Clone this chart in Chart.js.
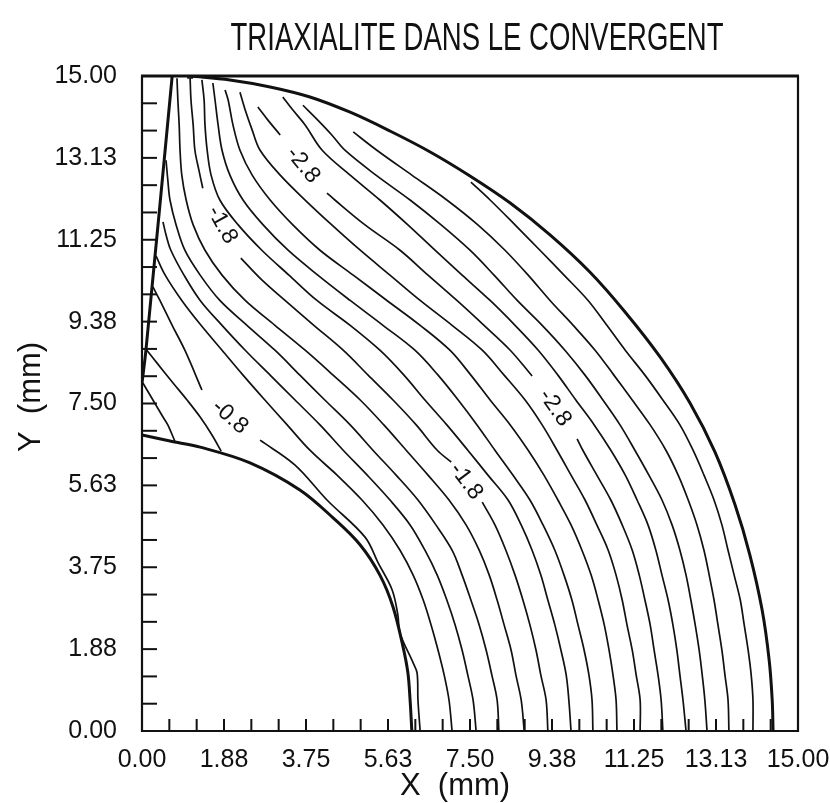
<!DOCTYPE html>
<html><head><meta charset="utf-8">
<script src="https://cdn.jsdelivr.net/npm/chart.js@4.4.1/dist/chart.umd.min.js"></script>
<style>html,body{margin:0;padding:0;background:#fff}</style>
</head><body><canvas id="c" width="830" height="803"></canvas>
<script>
const titleText = 'TRIAXIALITE DANS LE CONVERGENT';
const xTitle = 'X  (mm)';
const yTitle = 'Y  (mm)';
const tickLabels = ['0.00','1.88','3.75','5.63','7.50','9.38','11.25','13.13','15.00'];
const axisMin = 0, axisMax = 15, minorCount = 24;

// domain boundaries (mm)
const outerBoundary = [[1.10,15.0],[2.01,14.91],[2.93,14.75],[3.84,14.52],[4.76,14.17],[5.67,13.74],[6.59,13.26],[7.50,12.71],[8.42,12.09],[9.33,11.36],[10.24,10.51],[11.05,9.59],[11.85,8.56],[12.53,7.51],[13.10,6.39],[13.56,5.18],[13.90,4.03],[14.18,2.77],[14.34,1.63],[14.41,0.71],[14.43,0]];
const innerBoundary = [[0,6.78],[0.64,6.64],[1.33,6.50],[2.47,6.14],[3.61,5.52],[4.37,4.88],[4.99,4.26],[5.44,3.57],[5.74,2.84],[5.97,1.92],[6.08,1.33],[6.13,0.71],[6.17,0]];
const leftBoundary = [[0,7.97],[0.09,8.72],[0.69,15.0]];
const cornerMark = [[1.10,15.0]];

// iso-lines of triaxiality (null = break for a level label)
const c1 = [[0.25,10.17],[0.41,9.86],[0.69,9.29],[0.98,8.72],[1.37,7.81],null,[2.70,6.66],[3.50,6.09],[4.23,5.29],[5.10,4.44],[5.40,3.85],[5.72,3.23],[5.85,2.66],[5.90,2.24],[6.20,1.56],[6.29,1.33],[6.31,0.71],[6.36,0]];
const c2 = [[0.32,10.88],[0.53,10.44],[0.91,9.86],[1.35,9.29],[1.83,8.72],[2.31,8.15],[2.81,7.58],[3.32,7.01],[3.84,6.43],[4.46,5.86],[5.03,5.29],[5.51,4.72],[5.90,4.14],[6.20,3.57],[6.43,3.00],[6.61,2.43],[6.77,1.85],[6.91,1.28],[7.02,0.71],[7.09,0]];
const c3 = [[0.48,11.66],[0.55,11.36],[0.66,11.01],[0.96,10.44],[1.33,9.86],[1.83,9.29],[2.36,8.72],[2.93,8.15],[3.50,7.58],[4.07,7.01],[4.60,6.43],[5.15,5.86],[5.67,5.29],[6.13,4.72],[6.47,4.14],[6.75,3.57],[6.97,3.00],[7.16,2.43],[7.32,1.85],[7.45,1.28],[7.57,0.71],[7.64,0]];
const c4 = [[0.55,13.07],[0.59,12.62],[0.64,12.16],[0.78,11.59],[0.98,11.01],[1.33,10.44],[1.78,9.86],[2.40,9.29],[3.04,8.72],[3.61,8.15],[4.18,7.58],[4.76,7.01],[5.28,6.43],[5.81,5.86],[6.31,5.29],[6.72,4.72],[7.09,4.14],[7.32,3.57],[7.52,3.00],[7.71,2.43],[7.87,1.85],[8.00,1.28],[8.12,0.71],[8.16,0]];
const c5 = [[0.80,14.95],[0.82,14.45],[0.85,13.88],[0.87,13.30],[0.91,12.73],[1.01,12.16],[1.17,11.59],[1.44,11.01],[1.83,10.44],[2.36,9.86],[3.04,9.29],[3.73,8.72],[4.37,8.15],[4.99,7.58],[5.53,7.01],[6.04,6.43],[6.54,5.86],[7.02,5.29],[7.41,4.72],[7.71,4.14],[7.94,3.57],[8.12,3.00],[8.28,2.43],[8.44,1.85],[8.55,1.28],[8.67,0.71],[8.74,0]];
const c6 = [[1.10,14.95],[1.12,14.45],[1.17,13.88],[1.21,13.30],[1.30,12.85],[1.39,12.43],null,[2.26,10.83],[2.74,10.33],[3.27,9.86],[3.93,9.29],[4.60,8.72],[5.17,8.15],[5.74,7.58],[6.27,7.01],[6.75,6.43],[7.07,6.16],null,[7.78,5.24],[8.07,4.72],[8.32,4.14],[8.53,3.57],[8.71,3.00],[8.87,2.43],[9.01,1.85],[9.12,1.28],[9.24,0.71],[9.28,0]];
const c7 = [[1.37,14.91],[1.42,14.45],[1.44,13.88],[1.49,13.30],[1.58,12.73],[1.78,12.16],[2.20,11.59],[2.74,11.01],[3.36,10.44],[4.00,9.86],[4.76,9.29],[5.44,8.72],[5.99,8.15],[6.47,7.58],[6.97,7.01],[7.45,6.43],[7.91,5.86],[8.37,5.29],[8.67,4.72],[8.92,4.14],[9.12,3.57],[9.28,3.00],[9.44,2.43],[9.58,1.85],[9.70,1.28],[9.76,0.71],[9.81,0]];
const c8 = [[1.62,14.84],[1.67,14.45],[1.74,13.88],[1.83,13.30],[2.01,12.73],[2.31,12.16],[2.77,11.59],[3.34,11.01],[4.02,10.44],[4.76,9.86],[5.51,9.29],[6.24,8.72],[6.77,8.15],[7.23,7.58],[7.66,7.01],[8.07,6.43],[8.48,5.86],[8.87,5.29],[9.17,4.72],[9.44,4.14],[9.65,3.57],[9.83,3.00],[9.97,2.43],[10.11,1.85],[10.22,1.28],[10.29,0.71],[10.31,0]];
const c9 = [[1.90,14.68],[1.97,14.45],[2.08,13.88],[2.24,13.30],[2.52,12.73],[2.93,12.16],[3.45,11.59],[4.07,11.01],[4.83,10.44],[5.60,9.86],[6.36,9.29],[7.04,8.72],[7.52,8.15],[7.96,7.58],[8.42,7.01],[8.83,6.43],[9.19,5.86],[9.51,5.29],[9.81,4.72],[10.06,4.14],[10.27,3.57],[10.43,3.00],[10.57,2.43],[10.68,1.85],[10.77,1.28],[10.84,0.71],[10.86,0]];
const c10 = [[2.24,14.63],[2.36,14.22],[2.52,13.76],[2.70,13.30],[3.16,12.73],[3.73,12.16],[4.34,11.59],[4.99,11.01],[5.67,10.44],[6.36,9.86],[7.09,9.29],[7.78,8.72],[8.28,8.15],[8.76,7.58],[9.15,7.01],[9.49,6.43],[9.81,5.86],[10.13,5.29],[10.40,4.72],[10.66,4.14],[10.84,3.57],[10.98,3.00],[11.09,2.43],[11.21,1.85],[11.30,1.28],[11.39,0.71],[11.39,0]];
const c11 = [[2.65,14.29],[2.88,13.99],[3.16,13.65],null,[4.23,12.32],[4.41,12.16],[5.10,11.59],[5.90,11.01],[6.54,10.44],[7.20,9.86],[7.82,9.29],[8.42,8.72],[8.92,8.13],null,[9.95,6.69],[10.08,6.43],[10.40,5.86],[10.72,5.29],[10.98,4.72],[11.21,4.14],[11.37,3.57],[11.50,3.00],[11.62,2.43],[11.71,1.85],[11.80,1.28],[11.87,0.71],[11.91,0]];
const c12 = [[3.22,14.52],[3.45,14.22],[3.73,13.88],[4.12,13.30],[4.76,12.73],[5.44,12.16],[6.08,11.59],[6.70,11.01],[7.32,10.44],[7.96,9.86],[8.53,9.29],[9.06,8.72],[9.51,8.15],[9.92,7.58],[10.34,7.01],[10.72,6.43],[11.05,5.86],[11.32,5.29],[11.57,4.72],[11.75,4.14],[11.89,3.57],[12.03,3.00],[12.14,2.43],[12.23,1.85],[12.30,1.28],[12.37,0.71],[12.44,0]];
const c13 = [[3.68,14.33],[4.02,13.99],[4.34,13.65],[4.64,13.30],[5.35,12.73],[6.13,12.16],[6.84,11.59],[7.50,11.01],[8.05,10.44],[8.58,9.86],[9.15,9.29],[9.67,8.72],[10.13,8.15],[10.54,7.58],[10.93,7.01],[11.27,6.43],[11.59,5.86],[11.89,5.29],[12.12,4.72],[12.30,4.14],[12.44,3.57],[12.55,3.00],[12.65,2.43],[12.74,1.85],[12.81,1.28],[12.87,0.71],[12.92,0]];
const c14 = [[4.83,13.72],[5.37,13.30],[6.17,12.73],[6.97,12.16],[7.68,11.59],[8.30,11.01],[8.83,10.44],[9.33,9.86],[9.86,9.29],[10.36,8.72],[10.79,8.15],[11.21,7.58],[11.62,7.01],[11.98,6.43],[12.26,5.86],[12.49,5.29],[12.69,4.72],[12.85,4.14],[12.97,3.57],[13.08,3.00],[13.17,2.43],[13.26,1.85],[13.33,1.28],[13.40,0.71],[13.42,0]];
const c15 = [[7.52,12.57],[7.96,12.16],[8.53,11.59],[9.10,11.01],[9.65,10.44],[10.20,9.86],[10.63,9.29],[11.05,8.72],[11.50,8.15],[11.91,7.58],[12.30,7.01],[12.60,6.43],[12.85,5.86],[13.08,5.29],[13.26,4.72],[13.40,4.14],[13.54,3.57],[13.68,3.00],[13.77,2.43],[13.86,1.85],[13.93,1.28],[13.97,0.71],[13.97,0]];
const s1 = [[0.11,8.72],[0.34,8.43],[0.71,7.97],[1.03,7.58],[1.33,7.19],[1.60,6.78],[1.81,6.41]];
const s2 = [[0.02,7.97],[0.25,7.58],[0.48,7.19],[0.59,7.01],[0.75,6.64]];

const isoLines = [c1,c2,c3,c4,c5,c6,c7,c8,c9,c10,c11,c12,c13,c14,c15,s1,s2];
const levelLabels = ['-0.8','-1.8','-1.8','-2.8','-2.8'];
const labelX = [2.01,1.83,7.41,3.68,9.44];
const labelY = [7.19,11.59,5.72,12.96,7.40];
const labelAngle = [41,61,53,51,55];

function toPts(a){return a.map(p=>({x:p[0],y:p[1]}));}
function segments(a){const out=[];let cur=[];a.forEach(p=>{if(p===null){if(cur.length)out.push(cur);cur=[];}else cur.push(p);});if(cur.length)out.push(cur);return out;}

const datasets = [];
[outerBoundary,innerBoundary,leftBoundary].forEach(b=>datasets.push({data:toPts(b),borderWidth:3,tension:0.35}));
isoLines.forEach(line=>segments(line).forEach(seg=>datasets.push({data:toPts(seg),borderWidth:1.7,tension:0.35})));
datasets.forEach(d=>{d.showLine=true;d.pointRadius=0;d.borderColor='#111';d.fill=false;});
datasets.push({data:toPts(cornerMark),showLine:false,pointStyle:'rect',pointRadius:3,borderWidth:1.5,borderColor:'#111',backgroundColor:'#fff'});

const minorTicks = [];
for (let i=0;i<=minorCount;i++) minorTicks.push(axisMin+(axisMax-axisMin)*i/minorCount);

const deco = {
  id:'deco',
  afterDatasetsDraw(chart){
    const ctx=chart.ctx, xs=chart.scales.x, ys=chart.scales.y, a=chart.chartArea;
    ctx.save();
    ctx.strokeStyle='#111';ctx.lineCap='butt';
    ctx.lineWidth=2.2;
    ctx.beginPath();ctx.moveTo(a.left,a.top);ctx.lineTo(a.left,a.bottom);ctx.lineTo(a.right,a.bottom);ctx.lineTo(a.right,a.top);ctx.stroke();
    ctx.lineWidth=3;ctx.beginPath();ctx.moveTo(a.left-1,a.top);ctx.lineTo(a.right+1,a.top);ctx.stroke();
    ctx.lineWidth=2;
    minorTicks.forEach((v,i)=>{
      if(i===0||i===minorCount) return;
      const px=xs.getPixelForValue(v); ctx.beginPath();ctx.moveTo(px,a.bottom);ctx.lineTo(px,a.bottom-12);ctx.stroke();
      const py=ys.getPixelForValue(v); ctx.beginPath();ctx.moveTo(a.left,py);ctx.lineTo(a.left+15,py);ctx.stroke();
    });
    ctx.fillStyle='#111';
    ctx.textAlign='center';ctx.textBaseline='middle';
    ctx.save();ctx.translate(477,40);ctx.scale(0.725,1);
    ctx.font='38px "Liberation Sans", Arial, sans-serif';ctx.fillText(titleText,0,0);ctx.restore();
    ctx.font='31px "Liberation Sans", Arial, sans-serif';
    ctx.fillText(xTitle,455,786);
    ctx.save();ctx.translate(31,397);ctx.rotate(-Math.PI/2);ctx.fillText(yTitle,0,0);ctx.restore();
    ctx.font='23px "Liberation Sans", Arial, sans-serif';
    levelLabels.forEach((t,i)=>{
      ctx.save();ctx.translate(xs.getPixelForValue(labelX[i]),ys.getPixelForValue(labelY[i]));ctx.rotate(labelAngle[i]*Math.PI/180);ctx.fillText(t,0,0);ctx.restore();
    });
    ctx.restore();
  }
};

new Chart(document.getElementById('c'),{
  type:'scatter',
  data:{datasets},
  options:{
    responsive:false,animation:false,
    layout:{padding:{left:0,right:32,top:76,bottom:0}},
    plugins:{legend:{display:false},tooltip:{enabled:false},title:{display:false}},
    scales:{
      x:{type:'linear',min:axisMin,max:axisMax,
        afterBuildTicks:s=>{s.ticks=minorTicks.map(v=>({value:v}));},
        afterFit:s=>{s.height=72;s.paddingLeft=0;s.paddingRight=0;},
        grid:{display:false,drawTicks:false},border:{display:false},
        ticks:{autoSkip:false,maxRotation:0,minRotation:0,padding:14,color:'#111',font:{size:25,family:'"Liberation Sans", Arial, sans-serif'},
          callback:(v,i)=>i%3===0?tickLabels[i/3]:''}},
      y:{type:'linear',min:axisMin,max:axisMax,
        afterBuildTicks:s=>{s.ticks=minorTicks.map(v=>({value:v}));},
        afterFit:s=>{s.width=142;s.paddingTop=0;s.paddingBottom=0;},
        grid:{display:false,drawTicks:false},border:{display:false},
        ticks:{autoSkip:false,padding:25,color:'#111',font:{size:25,family:'"Liberation Sans", Arial, sans-serif'},
          callback:(v,i)=>i%3===0?tickLabels[i/3]:''}}
    }
  },
  plugins:[deco]
});
</script></body></html>
